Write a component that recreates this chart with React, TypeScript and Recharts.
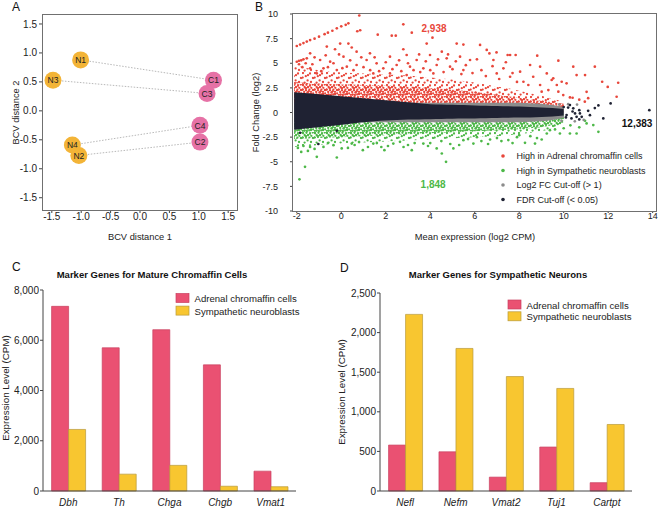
import React from 'react';
import {
  ScatterChart, Scatter, ComposedChart, Area, BarChart, Bar,
  XAxis, YAxis, ReferenceDot,
} from 'recharts';

const FONT = '"Liberation Sans", Arial, Helvetica, sans-serif';

// ---- Panel A: BCV distances of the samples
const sampleNames = ['N1', 'N3', 'N4', 'N2', 'C1', 'C3', 'C4', 'C2'];
const bcv1 = [-1.01, -1.48, -1.15, -1.04, 1.25, 1.14, 1.02, 1.02];
const bcv2 = [0.88, 0.53, -0.59, -0.77, 0.53, 0.30, -0.25, -0.54];
const samplePairs = [['N1', 'C1'], ['N3', 'C3'], ['N4', 'C4'], ['N2', 'C2']];
const bcvTicks = [-1.5, -1, -0.5, 0, 0.5, 1, 1.5];
const bcvXDomain = [-1.65, 1.65];
const bcvYDomain = [-1.712, 1.655];

// ---- Panel B: MA plot. Dense cores as envelopes, sparse points listed
const bandX = [-2.12, -1.5, -1, -0.5, 0, 0.5, 1, 1.5, 2, 2.5, 3, 3.5, 4, 4.5, 5, 5.5, 6, 6.5, 7, 7.5, 8, 8.5, 9, 9.5, 10];
const blackUpper = [2.05, 1.95, 1.85, 1.75, 1.65, 1.55, 1.45, 1.35, 1.25, 1.15, 1.05, 0.95, 0.85, 0.82, 0.78, 0.75, 0.72, 0.69, 0.66, 0.63, 0.6, 0.56, 0.52, 0.45, 0.35];
const blackLower = [-1.75, -1.6, -1.5, -1.38, -1.25, -1.12, -1.0, -0.9, -0.82, -0.76, -0.72, -0.7, -0.68, -0.66, -0.64, -0.62, -0.6, -0.58, -0.56, -0.54, -0.52, -0.5, -0.46, -0.4, -0.3];
const greyUpper = [1, 1, 1, 1, 1, 1, 1, 1, 1, 1, 1, 1, 1, 1, 1, 1, 1, 1, 1, 1, 1, 0.95, 0.9, 0.75, 0.55];
const greyLower = [-1, -1, -1, -1, -1, -1, -1, -1, -1, -1, -1, -1, -1, -1, -1, -1, -1, -1, -1, -1, -1, -0.95, -0.9, -0.75, -0.55];
const redDenseTop = [3.1, 3.0, 2.95, 2.9, 2.85, 2.85, 2.8, 2.8, 2.75, 2.7, 2.65, 2.6, 2.5, 2.4, 2.3, 2.2, 2.1, 1.95, 1.8, 1.65, 1.5, 1.35, 1.2, 1.05, 0.9];
const redSpeckTop = [4.8, 4.5, 4.3, 4.15, 4.05, 4.0, 3.95, 3.9, 3.85, 3.8, 3.75, 3.65, 3.55, 3.45, 3.35, 3.2, 3.05, 2.85, 2.65, 2.45, 2.2, 1.95, 1.7, 1.4, 1.1];
const greenDenseBottom = [-2.7, -2.65, -2.6, -2.55, -2.5, -2.45, -2.4, -2.35, -2.3, -2.25, -2.2, -2.15, -2.1, -2.05, -2.0, -1.95, -1.9, -1.85, -1.8, -1.75, -1.7, -1.6, -1.5, -1.3, -1.05];
const greenSpeckBottom = [-3.5, -3.4, -3.3, -3.2, -3.15, -3.1, -3.05, -3.0, -2.95, -2.9, -2.85, -2.8, -2.75, -2.7, -2.65, -2.55, -2.5, -2.45, -2.4, -2.3, -2.2, -2.05, -1.9, -1.65, -1.35];

const redSparse: [number, number][] = [
  [-2.0, 6.75], [-1.85, 6.9], [-1.7, 7.05], [-1.55, 7.2], [-1.4, 7.35], [-1.2, 7.5], [-1.0, 7.7], [-0.75, 7.95],
  [-0.6, 8.1], [-0.4, 8.3], [-0.2, 8.55], [0.0, 8.75], [0.2, 8.9], [0.32, 9.05],
  [-2.0, 5.15], [-1.9, 5.25], [-1.8, 5.3], [-1.7, 5.4], [-1.55, 5.5],
  [0.81, 9.85], [0.72, 8.25], [0.85, 8.35], [1.64, 7.9], [2.27, 7.8], [2.45, 7.8], [2.79, 8.95], [3.17, 8.1], [4.1, 7.6],
  [-0.05, 7.0], [0.32, 7.0], [0.47, 6.6], [3.84, 7.0], [5.19, 7.0], [5.49, 6.9],
  [6.54, 6.35], [6.98, 6.1], [7.59, 5.84], [8.81, 5.77], [9.76, 5.26], [11.4, 4.65], [11.73, 3.12], [11.98, 2.6],
  [12.45, 3.02], [12.38, 1.6], [10.58, 3.8], [10.13, 2.96], [10.4, 1.5], [10.7, 1.3], [10.95, 1.1], [11.1, 1.45],
  [6.24, 6.86], [6.66, 6.0], [6.84, 5.33], [7.48, 5.84], [7.84, 5.84], [10.43, 4.65], [10.96, 3.8],
  [9.91, 3.12], [9.69, 2.79], [9.53, 3.47], [11.03, 2.1], [10.28, 1.53],
  [6.99, 3.97], [7.29, 4.48], [7.59, 3.63], [8.04, 4.14], [8.49, 4.82], [8.63, 3.63], [8.94, 4.65], [9.24, 3.97],
  [9.46, 3.3], [8.19, 3.12], [8.41, 2.79], [8.94, 2.79], [9.31, 2.28], [9.01, 2.11], [9.76, 2.11], [9.98, 1.77],
  [-0.65, 6.69], [-0.28, 6.42], [0.69, 6.18], [0.1, 5.67], [1.29, 6.01], [2.19, 5.67], [2.79, 6.42], [2.94, 5.84],
  [3.39, 5.33], [3.99, 5.84], [4.52, 6.18], [4.74, 5.5], [5.34, 5.67], [5.79, 5.33], [-1.4, 6.01], [-0.95, 5.33],
  [-0.5, 5.16], [-0.8, 4.48], [1.59, 4.99], [1.89, 4.48], [2.49, 4.82], [3.09, 4.65], [3.69, 4.48], [4.29, 4.82],
  [4.89, 4.65], [5.49, 4.31], [1.14, 5.33], [0.69, 4.82], [0.25, 4.65], [-0.2, 4.31], [-1.4, 4.48], [-1.1, 3.97],
  [1.44, 3.97], [2.19, 3.97], [2.94, 3.8], [4.14, 3.97],
  [-1.9, 4.9], [-1.75, 4.6], [-1.6, 5.0], [-1.3, 4.9], [-1.2, 5.6], [-0.9, 4.2], [-0.7, 5.8], [-0.6, 4.6],
  [-0.35, 5.0], [-0.1, 5.9], [0.05, 4.5], [0.4, 5.3], [0.55, 4.3], [0.9, 5.6], [1.0, 4.6], [1.3, 4.3],
  [1.5, 5.6], [1.7, 4.2], [2.0, 5.1], [2.3, 4.4], [2.6, 5.3], [2.7, 4.2], [3.0, 5.0], [3.25, 4.3],
  [3.5, 5.9], [3.55, 4.1], [3.8, 5.2], [4.0, 4.3], [4.35, 5.4], [4.6, 4.1], [4.8, 5.9], [5.0, 4.4],
  [5.15, 5.2], [5.4, 3.9], [5.6, 4.8], [5.9, 4.0], [6.1, 5.4], [6.3, 4.3], [6.5, 3.7], [6.8, 4.7],
  [7.1, 3.4], [7.4, 5.1], [7.7, 4.0], [7.9, 3.1],
];
const greenSparse: [number, number][] = [
  [-1.88, -6.78], [-1.63, -5.52], [-1.1, -4.5], [-0.2, -4.57], [4.71, -5.01], [-1.8, -4.0], [-1.4, -3.49],
  [-0.8, -3.49], [0.02, -3.65], [0.97, -3.82], [1.94, -3.82], [3.17, -3.82], [4.29, -3.65], [4.52, -4.16],
  [5.04, -3.65], [-0.35, -3.32], [0.47, -3.15], [1.44, -3.15], [2.34, -3.15], [2.64, -2.98], [3.69, -3.15],
  [5.49, -2.81], [5.94, -3.15], [6.69, -2.74], [7.51, -2.8], [8.26, -3.08], [8.71, -3.15], [9.01, -2.74],
  [9.83, -2.13], [10.28, -2.13], [10.58, -2.13], [11.33, -1.28], [11.56, -1.96], [11.03, -1.11], [10.96, -0.84],
  [9.38, -1.79], [9.61, -1.72], [9.24, -2.13], [-1.5, -3.9], [-1.95, -3.6], [0.6, -3.3], [1.8, -3.5],
  [3.0, -3.3], [4.0, -3.1], [6.3, -2.9], [7.0, -2.6], [7.9, -2.5], [8.5, -2.4], [10.0, -1.6], [10.3, -1.3], [10.7, -1.5],
  [-1.7, -3.4], [-1.2, -3.7], [-0.6, -3.1], [0.3, -3.6], [0.8, -3.0], [1.2, -3.5], [1.6, -3.1], [2.1, -3.4],
  [2.8, -3.5], [3.3, -3.1], [3.9, -3.4], [4.5, -2.9], [4.9, -3.2], [5.3, -3.3], [5.7, -2.7], [6.1, -2.5],
  [6.6, -3.2], [7.2, -2.9], [7.7, -3.1], [8.0, -2.3], [8.8, -2.6],
];
const greySparse: [number, number][] = [
  [10.2, 0.85], [10.6, 0.8], [10.9, -0.75], [10.5, -0.9], [9.9, -0.85], [9.8, 0.8],
];
const blackSparse: [number, number][] = [
  [13.85, 0.24], [12.11, 0.92], [11.56, 0.72], [11.78, -0.6], [11.1, 0.17], [11.18, -0.27], [10.7, 0.24],
  [10.7, -0.7], [10.73, -0.09], [10.58, -0.44], [10.81, -0.44], [10.43, 0.42], [10.28, 0.75], [10.13, -0.26],
  [10.51, -0.09], [10.2, 0.5], [10.35, -0.6], [10.0, 0.55], [10.1, -0.5], [-1.03, -3.2], [-1.85, -2.06],
  [-0.2, -1.86], [9.9, 0.2], [10.4, 0.1], [11.4, 0.45],
];
const maXDomain = [-2.17, 14.15];
const maYDomain = [-10, 10];
const maXTicks = [-2, 0, 2, 4, 6, 8, 10, 12, 14];
const maYTicks = [-10, -7.5, -5, -2.5, 0, 2.5, 5, 7.5, 10];
const degCounts = [2938, 1848, 12383];
const degLabelX = [4.17, 4.13, 13.3];
const degLabelY = [8.5, -7.3, -1.1];
const maSeries = ['High in Adrenal chromaffin cells', 'High in Sympathetic neuroblasts', 'Log2 FC Cut-off (> 1)', 'FDR Cut-off (< 0.05)'];

// ---- Panels C and D: marker genes
const chromaffinGenes = ['Dbh', 'Th', 'Chga', 'Chgb', 'Vmat1'];
const chromaffinAdrenal = [7350, 5700, 6420, 5020, 790];
const chromaffinSymp = [2450, 670, 1020, 190, 170];
const neuronGenes = ['Nefl', 'Nefm', 'Vmat2', 'Tuj1', 'Cartpt'];
const neuronAdrenal = [580, 495, 175, 555, 105];
const neuronSymp = [2230, 1800, 1445, 1295, 840];
const cellTypes = ['Adrenal chromaffin cells', 'Sympathetic neuroblasts'];

const RED = '#e8473b';
const GREEN = '#4db848';
const GREY = '#8c8c8c';
const NAVY = '#1f2233';
const PINK_BAR = '#ea5172';
const YELLOW_BAR = '#f8c630';
const BAR_STROKES = ['#c94160', '#b89a3a'];
const ORANGE_DOT = '#f3b437';
const PINK_DOT = '#e672a6';
const AXIS = '#444';
const FRAME = '#707070';

const fmt = (v: number) => v.toLocaleString('en-US');

const samples = sampleNames.map((name, i) => ({ name, x: bcv1[i], y: bcv2[i] }));
const sampleBy = (n: string) => samples.find(s => s.name === n)!;

const bandRows = bandX.map((x, i) => ({
  x,
  black: [blackLower[i], blackUpper[i]],
  grey: [greyLower[i], greyUpper[i]],
  redDense: [0, redDenseTop[i]],
  redSpeck: [0, redSpeckTop[i]],
  greenDense: [greenDenseBottom[i], 0],
  greenSpeck: [greenSpeckBottom[i], 0],
}));
const toPts = (a: [number, number][]) => a.map(([x, y]) => ({ x, y }));
const noShape = () => <g />;

const bubble = (color: string) => (p: any) => (
  <g>
    <circle cx={p.cx} cy={p.cy} r={8.5} fill={color} />
    <text x={p.cx} y={p.cy} dy={3.2} textAnchor="middle" fontSize={8.5} fill="#222">{p.payload.name}</text>
  </g>
);
const dot = (color: string) => (p: any) => <circle cx={p.cx} cy={p.cy} r={1.35} fill={color} />;

// speckle textures for the dense parts of the point clouds (12px tile)
const speckDots = [
  [1, 1], [8, 1.5], [6, 3.2], [0.7, 5.6], [11, 6], [5.6, 8.4], [9, 10], [2.6, 10.6], [3.8, 4.2],
  [4.5, 0.8], [10.8, 0.6], [2.6, 3], [9.3, 3.8], [4, 6.2], [7.4, 5.6], [2.2, 8], [9, 7.8], [0.9, 10.8],
  [4.9, 11], [7.2, 10.4], [11.2, 9.4], [6.8, 7.2],
];
const Speckle = ({ id, color, count }: { id: string; color: string; count: number }) => (
  <pattern id={id} width="12" height="12" patternUnits="userSpaceOnUse">
    {speckDots.slice(0, count).map(([cx, cy], i) => <circle key={i} cx={cx} cy={cy} r={1.15} fill={color} />)}
  </pattern>
);

const tickStyle = { fontSize: 10, fill: '#222' };

// crisp 1px frame around a plot area (whole-pixel box)
const Frame = ({ left, top, width, height }: { left: number; top: number; width: number; height: number }) => (
  <div style={{ position: 'absolute', left, top, width, height, boxSizing: 'border-box', border: `1px solid ${FRAME}`, pointerEvents: 'none' }} />
);

function PanelA() {
  return (
    <ScatterChart width={245} height={250} margin={{ top: 15, right: 8, bottom: 0, left: 0 }}>
      <XAxis type="number" dataKey="x" domain={bcvXDomain} ticks={bcvTicks} stroke={AXIS} axisLine={false}
        tickFormatter={(v: number) => v.toFixed(1)} height={40} tickSize={3} tickMargin={0} tick={tickStyle} />
      <YAxis type="number" dataKey="y" domain={bcvYDomain} ticks={bcvTicks} stroke={AXIS} axisLine={false}
        tickFormatter={(v: number) => v.toFixed(1)} width={43} tickSize={4} tickMargin={2} tick={tickStyle} />
      {samplePairs.map(([a, b]) => (
        <Scatter key={a} data={[sampleBy(a), sampleBy(b)]} dataKey="y" isAnimationActive={false}
          line={{ stroke: '#b0b0b0', strokeWidth: 0.9, strokeDasharray: '1.5 1.5' }} shape={noShape} />
      ))}
      <Scatter data={samples.filter(s => s.name[0] === 'N')} dataKey="y" isAnimationActive={false} shape={bubble(ORANGE_DOT)} />
      <Scatter data={samples.filter(s => s.name[0] === 'C')} dataKey="y" isAnimationActive={false} shape={bubble(PINK_DOT)} />
    </ScatterChart>
  );
}

function PanelB() {
  return (
    <ComposedChart width={430} height={250} data={bandRows} margin={{ top: 14, right: 4, bottom: 0, left: 0 }}>
      <defs>
        <Speckle id="redSpeck" color={RED} count={9} />
        <Speckle id="redDense" color={RED} count={22} />
        <Speckle id="greenSpeck" color={GREEN} count={9} />
        <Speckle id="greenDense" color={GREEN} count={22} />
      </defs>
      <XAxis type="number" dataKey="x" domain={maXDomain} ticks={maXTicks} stroke={AXIS} axisLine={false}
        height={39} tickSize={2} tickMargin={0} tick={{ fontSize: 9, fill: '#222' }} />
      <YAxis type="number" dataKey="y" domain={maYDomain} ticks={maYTicks} stroke={AXIS} axisLine={false}
        width={63} tickSize={3} tickMargin={12} tick={{ fontSize: 9, fill: '#222' }} />
      <Area type="monotone" dataKey="redSpeck" stroke="none" fill="url(#redSpeck)" fillOpacity={1} isAnimationActive={false} />
      <Area type="monotone" dataKey="redDense" stroke="none" fill="url(#redDense)" fillOpacity={1} isAnimationActive={false} />
      <Area type="monotone" dataKey="greenSpeck" stroke="none" fill="url(#greenSpeck)" fillOpacity={1} isAnimationActive={false} />
      <Area type="monotone" dataKey="greenDense" stroke="none" fill="url(#greenDense)" fillOpacity={1} isAnimationActive={false} />
      <Area type="monotone" dataKey="grey" stroke="none" fill={GREY} fillOpacity={1} isAnimationActive={false} />
      <Area type="monotone" dataKey="black" stroke="none" fill={NAVY} fillOpacity={1} isAnimationActive={false} />
      <Scatter data={toPts(redSparse)} dataKey="y" shape={dot(RED)} isAnimationActive={false} />
      <Scatter data={toPts(greenSparse)} dataKey="y" shape={dot(GREEN)} isAnimationActive={false} />
      <Scatter data={toPts(greySparse)} dataKey="y" shape={dot(GREY)} isAnimationActive={false} />
      <Scatter data={toPts(blackSparse)} dataKey="y" shape={dot(NAVY)} isAnimationActive={false} />
      {degCounts.map((n, i) => (
        <ReferenceDot key={n} x={degLabelX[i]} y={degLabelY[i]} r={0} fill="none" stroke="none"
          label={{ value: fmt(n), position: 'center', fill: [RED, GREEN, '#111'][i], fontSize: 10, fontWeight: 'bold' }} />
      ))}
    </ComposedChart>
  );
}

function MarkerBars({ genes, adrenal, symp, max, step, width, marginTop, marginRight, yWidth }: any) {
  const rows = genes.map((gene: string, i: number) => ({ gene, adrenal: adrenal[i], symp: symp[i] }));
  const ticks: number[] = [];
  for (let v = 0; v <= max; v += step) ticks.push(v);
  return (
    <BarChart width={width} height={247} data={rows} margin={{ top: marginTop, right: marginRight, bottom: 0, left: 0 }}
      barCategoryGap="17%" barGap={0}>
      <XAxis dataKey="gene" height={18} tickLine={false} axisLine={{ stroke: '#444' }} interval={0}
        tick={{ fontSize: 10, fill: '#222', fontStyle: 'italic' }} />
      <YAxis width={yWidth} domain={[0, max]} ticks={ticks} tickFormatter={fmt} tickSize={3} tickMargin={1}
        axisLine={{ stroke: '#444' }} tickLine={{ stroke: '#444' }} tick={tickStyle} />
      <Bar dataKey="adrenal" fill={PINK_BAR} stroke={BAR_STROKES[0]} strokeWidth={0.7} isAnimationActive={false} />
      <Bar dataKey="symp" fill={YELLOW_BAR} stroke={BAR_STROKES[1]} strokeWidth={0.7} isAnimationActive={false} />
    </BarChart>
  );
}

function BarLegend({ x, y, gap }: { x: number; y: number; gap: number }) {
  return (
    <g>
      {cellTypes.map((t, i) => (
        <g key={t}>
          <rect x={x} y={y + i * gap} width={13} height={9} fill={[PINK_BAR, YELLOW_BAR][i]} stroke={BAR_STROKES[i]} strokeWidth={0.7} />
          <text x={x + 18.5} y={y + i * gap + 8.5} fontSize={9.6} fill="#222">{t}</text>
        </g>
      ))}
    </g>
  );
}

export default function App() {
  const maColors = [RED, GREEN, GREY, NAVY];
  return (
    <div style={{ position: 'absolute', left: 0, top: 0, width: 660, height: 509, background: '#fff', fontFamily: FONT }}>
      <div style={{ position: 'absolute', left: 0, top: 0 }}><PanelA /></div>
      <div style={{ position: 'absolute', left: 230, top: 0 }}><PanelB /></div>
      <Frame left={42} top={14} width={196} height={197} />
      <Frame left={292} top={13} width={365} height={199} />
      <div style={{ position: 'absolute', left: 0, top: 262 }}>
        <MarkerBars genes={chromaffinGenes} adrenal={chromaffinAdrenal} symp={chromaffinSymp} max={8000} step={2000}
          width={310} marginTop={28} marginRight={14} yWidth={43} />
      </div>
      <div style={{ position: 'absolute', left: 330, top: 262 }}>
        <MarkerBars genes={neuronGenes} adrenal={neuronAdrenal} symp={neuronSymp} max={2500} step={500}
          width={330} marginTop={31} marginRight={28} yWidth={50} />
      </div>
      <svg width={660} height={509} style={{ position: 'absolute', left: 0, top: 0, pointerEvents: 'none' }}>
        <g fontSize={12} fill="#111">
          <text x={12} y={11}>A</text>
          <text x={255} y={11}>B</text>
          <text x={12} y={271}>C</text>
          <text x={340} y={272}>D</text>
        </g>
        <g fontSize={9.3} fill="#222" textAnchor="middle">
          <text x={140} y={240}>BCV distance 1</text>
          <text transform="translate(19,112.5) rotate(-90)">BCV distance 2</text>
          <text x={475} y={240}>Mean expression (log2 CPM)</text>
          <text transform="translate(258.5,112.5) rotate(-90)">Fold Change (log2)</text>
          <text transform="translate(8.5,388) rotate(-90)" fontSize={9.8}>Expression Level (CPM)</text>
          <text transform="translate(345,392) rotate(-90)" fontSize={9.8}>Expression Level (CPM)</text>
        </g>
        <g fontSize={9.5} fontWeight="bold" fill="#111" textAnchor="middle">
          <text x={152} y={277.8}>Marker Genes for Mature Chromaffin Cells</text>
          <text x={498} y={278.4}>Marker Genes for Sympathetic Neurons</text>
        </g>
        <g>
          {maSeries.map((s, i) => (
            <g key={s}>
              <circle cx={503} cy={156 + i * 14.5} r={1.8} fill={maColors[i]} />
              <text x={516.5} y={159.2 + i * 14.5} fontSize={9} fill="#222">{s}</text>
            </g>
          ))}
        </g>
        <BarLegend x={176} y={293.5} gap={12.6} />
        <BarLegend x={508} y={300} gap={11.8} />
      </svg>
    </div>
  );
}
